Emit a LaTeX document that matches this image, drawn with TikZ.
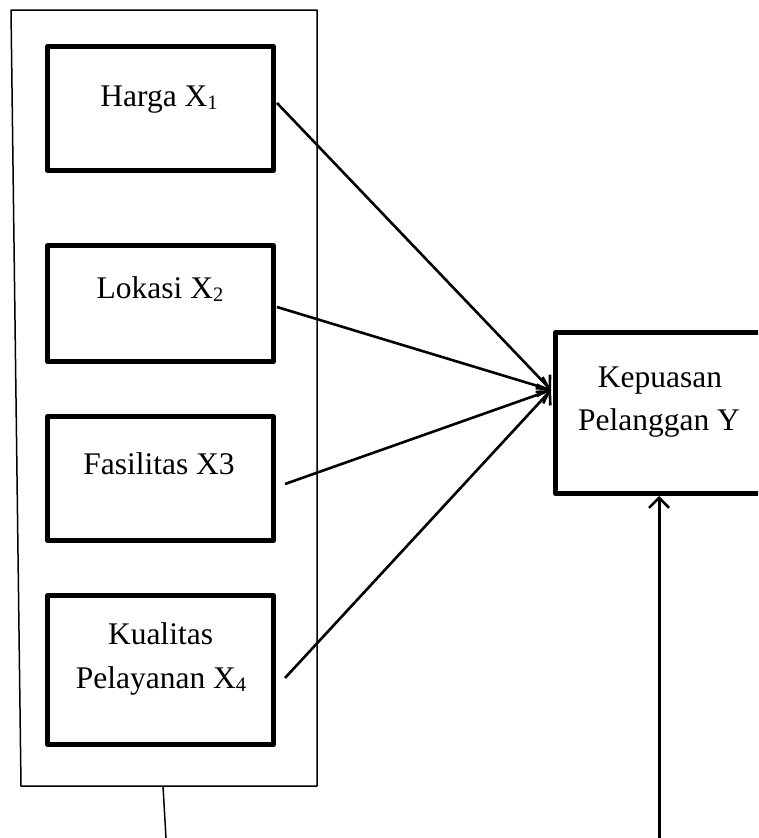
\documentclass[tikz,border=0pt]{standalone}
\usepackage{fontspec}
\setmainfont{Liberation Serif}
\usetikzlibrary{arrows.meta}
\newcommand\lowsub[1]{\raisebox{-3.5pt}{\fontsize{20.5}{20}\selectfont #1}}
\begin{document}
\begin{tikzpicture}[x=1pt,y=-1pt,
  thinline/.style={line width=1.5pt},
  varbox/.style={draw, rectangle, line width=5pt, line join=round, inner sep=0pt},
  lbl/.style={anchor=base, inner sep=0pt, font=\fontsize{31.5}{43}\selectfont},
  conn/.style={line width=2.6pt, -{Straight Barb[length=10pt,width=20pt,line width=2.6pt]}},
  thickline/.style={line width=3pt}]
\useasboundingbox (0,0) rectangle (758,838);
\clip (0,0) rectangle (758,838);
% outer frame
\draw[thinline, line join=round] (11,10) -- (317,10) -- (317,786) -- (21,786) -- cycle;
% variable boxes
\node[varbox, minimum width=226pt, minimum height=124pt] (harga) at (160.5,108.5) {};
\node[varbox, minimum width=226pt, minimum height=116pt] (lokasi) at (160.5,303.5) {};
\node[varbox, minimum width=226pt, minimum height=124pt] (fasil) at (160.5,478.5) {};
\node[varbox, minimum width=226pt, minimum height=149pt] (kual) at (160.5,670) {};
\node[varbox, minimum width=230pt, minimum height=161pt] (kep) at (670.5,413) {};
% labels
\node[lbl] (tharga) at (159,106) {Harga X\lowsub{1}};
\node[lbl] (tlokasi) at (160,298) {Lokasi X\lowsub{2}};
\node[lbl] (tfasil) at (159,474) {Fasilitas X3};
\node[lbl] (tkual1) at (160.5,644) {Kualitas};
\node[lbl] (tkual2) at (161,688) {Pelayanan X\lowsub{4}};
\node[lbl] (tkep1) at (660,387) {Kepuasan};
\node[lbl] (tkep2) at (659,430) {Pelanggan Y};
% connector points
\coordinate (s1) at (277,103);
\coordinate (s2) at (277,307);
\coordinate (s3) at (285,484);
\coordinate (s4) at (285,678);
\coordinate (kin) at (551,390);
\coordinate (fb1) at (163,786);
\coordinate (fb2) at (166,838);
\coordinate (kb1) at (659,838);
\coordinate (kb2) at (659,496);
% connectors
\draw[conn] (s1) -- (kin);
\draw[conn] (s2) -- (kin);
\draw[conn] (s3) -- (kin);
\draw[conn] (s4) -- (kin);
\draw[thinline] (fb1) -- (fb2);
\draw[conn, line width=3pt] (kb1) -- (kb2);
\end{tikzpicture}
\end{document}
